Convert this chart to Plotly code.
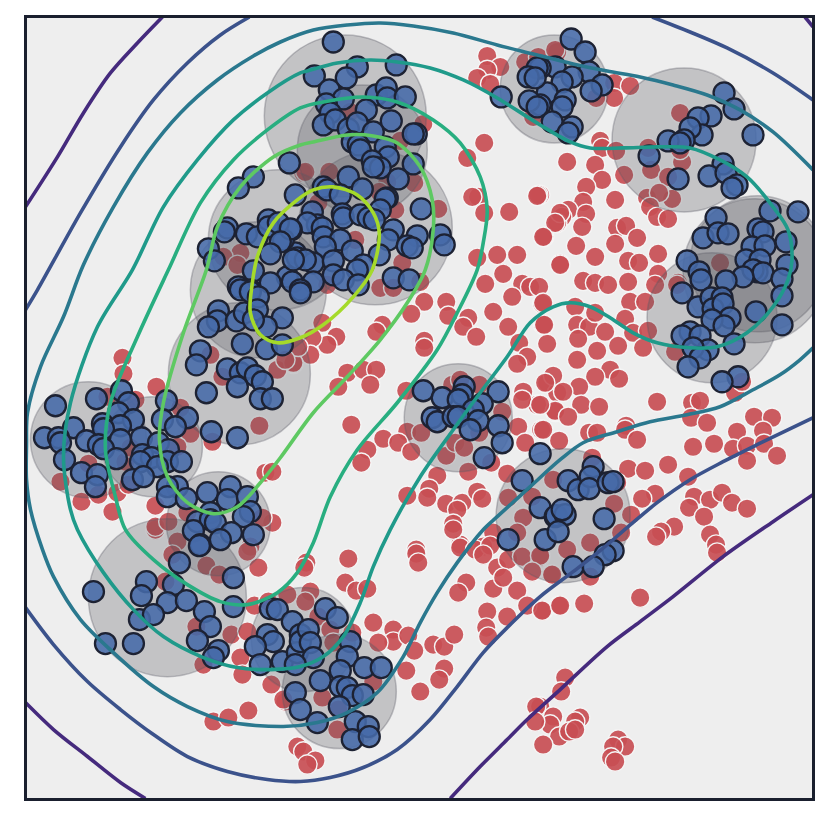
import plotly.graph_objects as go

# Values are read in the chart's own units (axis spans 26.5-813 horizontally, 18-798.5 vertically, y downward)
red_points = [
(485,284),(503,274),(522,284),(530,287),(539,287),(512,297),(542,304),(493,312),(446,302),(424,302),(448,316),(468,318),(463,327),(476,337),(508,327),(519,343),(543,325),(547,344),(527,357),(517,364),(547,383),(523,392),(537,405),(522,400),(557,393),(555,412),(411,314),(322,323),(382,325),(376,332),(424,341),(424,348),(336,337),(327,345),(312,338),(310,355),(293,364),(347,373),(363,370),(376,370),(338,387),(370,385),(406,391),(351,425),(452,385),(479,385),(460,380),(502,412),(407,432),(421,433),(383,439),(367,450),(398,443),(411,452),(361,463),(446,456),(455,443),(464,448),(479,433),(468,472),(518,427),(541,430),(525,443),(491,463),(507,474),(437,476),(429,489),(427,498),(407,496),(446,504),(462,503),(477,492),(482,499),(457,510),(453,524),(523,518),(508,498),(532,497),(493,533),(517,533),(460,545),(483,547),(416,550),
(557,52),(614,83),(630,86),(614,98),(596,98),(680,113),(600,141),(602,148),(616,151),(567,162),(595,165),(602,180),(624,175),(586,187),(648,148),(651,170),(668,177),(682,162),(680,150),(615,200),(647,198),(672,199),(659,193),(650,207),(657,217),(668,219),(540,195),(583,202),(568,210),(586,214),(562,217),(557,223),(582,227),(617,228),(626,226),(637,238),(544,237),(576,246),(615,244),(595,257),(658,254),(560,264),(628,261),(639,263),(658,274),(720,263),(678,283),(583,281),(595,283),(608,285),(628,282),(655,285),
(630,302),(645,302),(677,285),(543,303),(575,307),(544,325),(577,325),(589,327),(605,332),(595,313),(625,319),(633,333),(648,331),(578,339),(618,346),(643,348),(597,351),(577,360),(610,370),(619,379),(595,377),(553,376),(545,383),(579,387),(563,392),(581,405),(599,407),(555,411),(568,417),(540,405),(657,402),(692,403),(700,401),(735,393),(742,382),(675,352),(754,417),(772,418),(691,418),(707,423),(626,426),(625,430),(589,433),(597,433),(543,430),(559,441),(737,432),(763,431),(637,440),(693,447),(714,444),(733,449),(747,446),(764,444),(777,456),(747,461),(668,465),(628,469),(645,471),(688,477),(592,458),(617,483),(553,480),(655,494),(642,499),(694,497),(710,500),(722,493),(732,503),(689,508),(747,509),(704,517),(614,504),(631,515),(621,533),(674,527),(661,532),(656,537),(710,535),(716,545),(590,543),(567,550),
(717,553),(540,557),(551,575),(590,577),(640,598),(543,611),(559,606),(584,604),(565,678),(561,692),(540,707),(553,717),(550,725),(580,718),(575,722),(559,737),(569,732),(575,730),(543,745),(618,740),(625,747),(613,747),(611,758),(615,762),
(453,530),(348,559),(416,554),(418,563),(306,563),(304,568),(345,583),(356,591),(367,589),(460,548),(475,550),(490,546),(483,555),(497,568),(508,560),(466,583),(458,593),(493,589),(503,578),(522,557),(540,556),(532,572),(552,575),(517,591),(527,606),(542,611),(560,606),(487,612),(486,628),(507,617),(488,637),(373,623),(393,630),(393,642),(408,636),(378,643),(414,651),(406,671),(433,645),(444,647),(454,635),(444,669),(439,680),(420,692),(373,682),(337,730),(322,698),(338,710),(297,747),(303,752),(315,761),(307,765),(310,592),(305,602),(287,595),(318,617),(352,633),(330,630),(333,643),(536,707),(535,722),(285,702),
(213,722),(228,718),(248,711),(258,568),(177,542),(172,555),(206,566),(219,575),(165,582),(196,627),(231,635),(247,632),(254,606),(268,602),(240,658),(242,675),(271,685),(203,665),(283,700),(155,530),(250,547),(247,552),
(122,358),(123,374),(156,387),(135,400),(107,397),(180,408),(190,434),(212,442),(259,426),(60,482),(88,464),(81,502),(98,495),(117,493),(112,512),(155,506),(125,462),(130,448),(128,485),(177,447),(155,527),(168,522),(265,473),(272,472),(272,523),(262,518),(187,513),(277,370),(293,363),(298,347),(285,360),(222,377),(210,355),
(240,253),(223,257),(237,265),(303,173),(487,56),(500,67),(487,70),(477,78),(490,84),(525,62),(538,57),(555,50),(533,117),(423,124),(400,141),(484,143),(467,158),(305,172),(329,172),(350,112),(414,183),(387,182),(478,197),(472,197),(538,195),(537,196),(484,213),(509,212),(438,209),(395,210),(379,192),(318,203),(355,240),(560,213),(555,223),(543,237),(477,258),(497,255),(517,255),(560,265),(402,263),(420,282),(380,288),(393,288),(327,285),
]

blue_points = [
(333,42),(357,67),(396,65),(314,76),(346,78),(329,90),(343,99),(376,95),(386,88),(387,98),(405,97),(326,104),(330,113),(366,110),(323,125),(335,120),(348,129),(357,123),(391,121),(373,132),(416,134),(413,134),(352,142),(358,145),(385,147),(360,150),(388,157),(372,161),(380,168),(373,167),(413,164),(289,163),(398,179),(348,177),(323,187),(327,190),(362,189),(295,195),(340,195),(387,198),(385,199),(421,209),(380,210),(312,212),(342,214),(343,218),(360,215),(368,218),(374,220),(317,225),(307,223),(291,230),(322,228),(393,230),(417,236),(440,235),(444,245),(388,240),(407,246),(412,248),(323,237),(340,240),(325,247),(352,251),(295,253),(297,258),(313,263),(305,260),(333,261),(379,255),(363,265),(357,270),(333,275),(343,280),(393,278),(409,280),(283,240),(287,277),(292,282),(313,282),(300,290),(358,285),
(253,177),(238,188),(227,228),(224,232),(246,234),(257,237),(268,220),(268,227),(278,223),(290,229),(280,242),(208,249),(214,261),(270,254),(253,271),(293,260),(238,287),(270,283),(250,290),
(240,290),(250,292),(258,297),(300,293),(218,311),(217,321),(208,327),(236,321),(244,313),(257,310),(282,318),(266,327),(253,320),(242,344),(266,349),(282,345),(200,351),(196,365),(227,369),(240,373),(247,368),(255,376),(262,382),(237,387),(206,393),(260,399),(272,399),(211,432),(237,438),
(121,391),(55,406),(96,399),(128,403),(166,401),(118,413),(187,418),(162,420),(133,420),(175,427),(102,424),(120,426),(73,428),(103,429),(44,438),(58,438),(86,441),(60,443),(141,438),(120,440),(98,445),(103,449),(158,443),(142,455),(168,450),(151,458),(167,462),(181,462),(116,459),(64,460),(140,462),(157,467),(81,473),(97,475),(95,487),(132,480),(143,477),(177,487),(167,487),(167,497),(186,499),(207,493),(230,487),(227,500),(247,497),(250,512),(243,517),(210,513),(197,522),(210,520),(215,523),(231,533),(253,535),(193,531),(200,545),(220,540),
(179,563),(199,546),(233,578),(93,592),(146,582),(141,596),(173,585),(167,603),(186,601),(204,612),(139,620),(153,615),(233,607),(210,627),(133,644),(105,644),(197,641),(218,651),(213,658),
(270,609),(277,610),(292,622),(267,635),(273,642),(255,647),(260,665),(282,662),(300,635),(297,653),(295,693),(300,710),
(325,609),(337,618),(300,642),(308,630),(310,643),(350,642),(347,657),(313,658),(295,665),(340,671),(364,668),(381,668),(320,681),(340,687),(347,688),(352,696),(363,695),(339,707),(317,723),(355,722),(368,727),(352,740),(369,737),
(571,39),(585,52),(589,72),(602,85),(591,91),(555,67),(572,77),(562,82),(547,93),(565,100),(562,107),(540,68),(540,105),(552,122),(572,127),(568,133),(537,68),(528,77),(535,78),(529,101),(537,107),(501,97),
(724,93),(734,109),(753,135),(711,116),(698,118),(702,135),(690,128),(684,140),(668,141),(680,143),(649,156),(678,179),(723,164),(709,176),(726,173),(737,185),(732,188),(770,211),(798,212),(716,218),(703,238),(718,233),(728,234),(758,229),(763,232),(786,242),(752,247),(765,246),(746,260),(687,261),(699,272),(787,265),(760,260),(757,272),(753,270),(763,273),(743,277),(701,280),(726,281),(782,279),(682,293),
(698,307),(711,298),(722,298),(713,309),(723,304),(730,318),(756,312),(782,296),(782,325),(712,320),(724,326),(690,332),(682,336),(700,336),(734,344),(708,350),(693,348),(700,358),(688,367),(738,377),(722,382),
(423,391),(442,398),(464,387),(462,395),(458,400),(498,392),(482,404),(473,410),(432,418),(437,422),(453,417),(458,417),(478,421),(470,430),(498,426),(502,443),(484,458),(540,454),(522,481),(540,508),(555,517),(545,540),(508,540),
(568,481),(578,490),(593,467),(590,477),(589,489),(608,483),(613,482),(556,516),(565,515),(562,510),(558,532),(604,519),(613,551),(605,555),(573,567),(593,567),
]

blob_x = [345,362,375,278,258,239,88,152,218,167,303,339,458,563,554,684,755,758,712]
blob_y = [116,150,228,240,290,374,440,447,524,598,640,692,418,516,89,140,271,264,318]
blob_r = [81,65,77,70,68,71,58,50,52,79,52,57,54,67,54,72,72,68,65]

level1_a = [(162,17),(137,43),(110,73),(83,113),(57,157),(25,207)]
level1_b = [(25,703),(53,730),(87,757),(120,783),(145,799)]
level1_c = [(450,799),(480,767),(507,740),(527,720),(560,690),(607,647),(640,622),(673,597),(723,557),(773,522),(813,495)]
level1_d = [(805,17),(813,27)]
level2_a = [(249,17),(220,35),(187,63),(153,100),(120,147),(80,213),(37,290),(25,310)]
level2_b = [(25,608),(53,645),(87,682),(120,710),(153,735),(187,757),(227,772),(267,780),(300,782),(330,778),(363,768),(397,750),(430,720),(457,687),(483,653),(507,628),(540,597),(573,572),(600,551),(627,528),(657,503),(690,480),(723,462),(757,445),(813,418)]
level2_c = [(652,17),(690,32),(727,48),(773,73),(813,100)]
level3_a = [(813,170),(773,132),(740,110),(707,95),(673,85),(640,77),(607,71),(573,64),(533,54),(497,45),(453,33),(413,26),(380,23),(347,25),(313,30),(280,42),(253,56),(217,80),(180,113),(147,153),(113,207),(83,265),(63,317),(40,367),(27,413),(26,445),(26,480),(30,510),(42,550),(53,577),(80,620),(113,653),(153,687),(187,707),(227,722),(283,727),(317,723),(347,713),(377,693),(403,657),(420,623),(437,593),(457,563),(483,530),(497,517),(530,487),(560,460),(583,443),(617,432),(650,422),(687,415),(720,407),(753,390),(780,375),(800,360),(813,348)]
level4_a = [(300,73),(267,93),(233,120),(197,160),(163,207),(132,270),(97,327),(70,403),(63,457),(70,510),(77,530),(103,573),(133,610),(163,637),(203,658),(237,668),(270,670),(300,667),(323,657),(343,637),(360,603),(373,567),(390,530),(420,477),(453,430),(480,393),(507,357),(530,323),(553,307),(570,303),(590,307),(610,318),(633,333),(657,343),(690,348),(717,347),(747,333),(773,307),(788,280),(792,260),(788,230),(773,207),(747,177),(720,160),(690,148),(657,147),(623,148),(590,148),(570,142),(540,125),(497,98),(463,80),(430,68),(397,62),(370,60),(337,63),(307,71),(300,73)]
level5_a = [(300,108),(267,130),(233,160),(200,203),(168,270),(137,337),(110,403),(105,450),(115,497),(125,530),(153,560),(187,585),(220,602),(247,605),(277,593),(297,573),(313,543),(330,497),(357,450),(397,403),(437,350),(457,313),(477,270),(483,243),(487,210),(480,177),(460,143),(433,120),(397,102),(363,97),(323,102),(300,108)]
level6_a = [(300,145),(273,157),(240,187),(217,227),(206,270),(183,333),(163,403),(159,440),(167,477),(187,503),(213,514),(237,507),(260,483),(280,458),(313,413),(347,377),(380,340),(407,303),(425,270),(433,230),(432,200),(420,167),(397,143),(373,136),(347,135),(313,142),(300,145)]
level7_a = [(333,187),(357,195),(373,213),(379,233),(372,270),(353,297),(323,325),(300,338),(277,343),(260,335),(250,313),(252,283),(257,257),(273,223),(297,200),(313,190),(333,187)]

contour_lines = [
    (level1_a, "#452a7d"), (level1_b, "#452a7d"), (level1_c, "#452a7d"), (level1_d, "#452a7d"),
    (level2_a, "#3b528b"), (level2_b, "#3b528b"), (level2_c, "#3b528b"),
    (level3_a, "#2a788e"), (level4_a, "#1f9a8a"), (level5_a, "#28ae80"),
    (level6_a, "#5ec962"), (level7_a, "#a5da2a"),
]

fig = go.Figure()
fig.add_trace(go.Scatter(
    x=[p[0] for p in red_points], y=[p[1] for p in red_points], mode="markers",
    marker=dict(size=19.5, color="rgba(200,78,84,0.92)", line=dict(color="#f5f5f5", width=1.4)),
))
fig.add_trace(go.Scatter(
    x=blob_x, y=blob_y, mode="markers",
    marker=dict(size=[2 * r for r in blob_r], sizemode="diameter", color="rgba(85,85,95,0.28)",
                line=dict(color="rgba(90,90,100,0.35)", width=1.5), opacity=1),
))
fig.add_trace(go.Scatter(
    x=[p[0] for p in blue_points], y=[p[1] for p in blue_points], mode="markers",
    marker=dict(size=21, color="rgba(70,106,168,0.88)", line=dict(color="#1d2233", width=2.3)),
))
for pts, col in contour_lines:
    fig.add_trace(go.Scatter(
        x=[p[0] for p in pts], y=[p[1] for p in pts], mode="lines",
        line=dict(color=col, width=3.6, shape="spline", smoothing=0.9),
    ))

fig.update_layout(
    width=830, height=825, showlegend=False,
    margin=dict(l=27, r=18, t=18, b=27),
    paper_bgcolor="white", plot_bgcolor="#eeeeee",
    xaxis=dict(range=[26.5, 812], showgrid=False, zeroline=False, showticklabels=False, ticks="",
               showline=True, mirror=True, linecolor="#1a1f2e", linewidth=2.5),
    yaxis=dict(range=[798.5, 18], showgrid=False, zeroline=False, showticklabels=False, ticks="",
               showline=True, mirror=True, linecolor="#1a1f2e", linewidth=2.5),
)
fig.write_html("out.html", config={"displayModeBar": False},
               post_script="document.body.style.margin='0';document.body.style.overflow='hidden';")
